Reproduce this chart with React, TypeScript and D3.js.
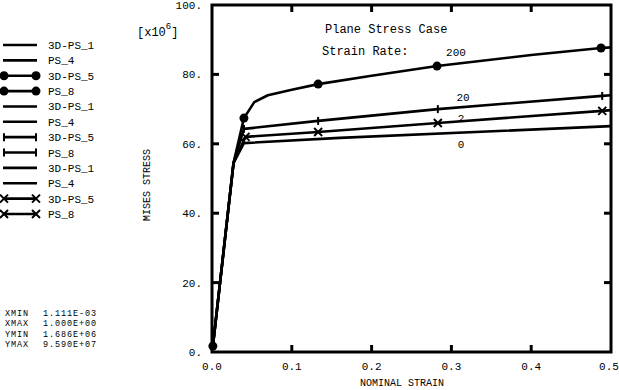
import * as d3 from 'd3'

// strain [-] and Mises stress [x10^6]
const rate200X = [0.0011, 0.027, 0.04, 0.053, 0.07, 0.1, 0.133, 0.2, 0.282, 0.4, 0.4875, 0.5]
const rate200Y = [1.7, 54.5, 67.4, 72, 74, 75.6, 77.2, 79.6, 82.4, 85.6, 87.6, 87.8]
const rate200Marks = [0.0011, 0.04, 0.133, 0.282, 0.4875]

const rate20X = [0.0011, 0.027, 0.04, 0.133, 0.283, 0.489, 0.5]
const rate20Y = [1.7, 54.5, 64.3, 66.6, 70.0, 73.8, 74.0]
const rate20Marks = [0.04, 0.133, 0.283, 0.489]

const rate2X = [0.0011, 0.027, 0.042, 0.133, 0.283, 0.489, 0.5]
const rate2Y = [1.7, 54.5, 62.0, 63.4, 66.0, 69.5, 69.7]
const rate2Marks = [0.042, 0.133, 0.283, 0.489]

const rate0X = [0.0011, 0.027, 0.04, 0.16, 0.5]
const rate0Y = [1.7, 54.5, 60.2, 61.7, 65.1]

const xTicks = [0, 0.1, 0.2, 0.3, 0.4, 0.5]
const xTickLabels = ['0.0', '0.1', '0.2', '0.3', '0.4', '0.5']
const yTicks = [0, 20, 40, 60, 80, 100]
const yTickLabels = ['0.', '20.', '40.', '60.', '80.', '100.']

const legendNames = ['3D-PS_1', 'PS_4', '3D-PS_5', 'PS_8', '3D-PS_1', 'PS_4', '3D-PS_5', 'PS_8', '3D-PS_1', 'PS_4', '3D-PS_5', 'PS_8']
const legendMarks = ['', '', 'circle', 'circle', '', '', 'plus', 'plus', '', '', 'cross', 'cross']

const statNames = ['XMIN', 'XMAX', 'YMIN', 'YMAX']
const statValues = ['1.111E-03', '1.000E+00', '1.686E+06', '9.590E+07']

const rateLabels = ['200', '20', '2', '0']

const width = 619
const height = 390
const left = 212
const right = 611
const top = 5
const bottom = 352
const font = '"Liberation Mono", "DejaVu Sans Mono", monospace'

const interp = (xs: number[], ys: number[], v: number) => {
	const i = Math.max(1, d3.bisectLeft(xs, v))
	const t = (v - xs[i - 1]) / (xs[i] - xs[i - 1])
	return ys[i - 1] + t * (ys[i] - ys[i - 1])
}

const Marker = ({ kind, cx, cy }: { kind: string; cx: number; cy: number }) => {
	if (kind === 'circle') return <circle cx={cx} cy={cy} r={4.5} fill='#000' />
	if (kind === 'plus') return <line x1={cx} x2={cx} y1={cy - 4} y2={cy + 4} stroke='#000' strokeWidth={2} />
	if (kind === 'cross')
		return (
			<g stroke='#000' strokeWidth={2}>
				<line x1={cx - 4} x2={cx + 4} y1={cy - 4} y2={cy + 4} />
				<line x1={cx - 4} x2={cx + 4} y1={cy + 4} y2={cy - 4} />
			</g>
		)
	return null
}

export default function App() {
	const x = d3.scaleLinear().domain([0, 0.5]).range([left, right])
	const y = d3.scaleLinear().domain([0, 100]).range([bottom, top])

	const path = (xs: number[], ys: number[]) =>
		d3
			.line<number>()
			.x((d) => x(d))
			.y((_, i) => y(ys[i]))(xs) as string

	const series = [
		{ xs: rate200X, ys: rate200Y, marks: rate200Marks, kind: 'circle' },
		{ xs: rate20X, ys: rate20Y, marks: rate20Marks, kind: 'plus' },
		{ xs: rate2X, ys: rate2Y, marks: rate2Marks, kind: 'cross' },
		{ xs: rate0X, ys: rate0Y, marks: [] as number[], kind: '' },
	]

	const rateLabelPos = [
		[456, 56],
		[463, 101],
		[461, 122],
		[461, 148],
	]

	return (
		<svg
			width={width}
			height={height}
			viewBox={`0 0 ${width} ${height}`}
			style={{ position: 'absolute', left: 0, top: 0, background: '#fff' }}
			fontFamily={font}
		>
			<defs>
				<clipPath id='plotClip'>
					<rect x={left} y={top} width={right - left} height={bottom - top} />
				</clipPath>
			</defs>
			<rect width={width} height={height} fill='#fff' />

			{/* curves */}
			<g clipPath='url(#plotClip)'>
				{series.map((s, i) => (
					<path key={i} d={path(s.xs, s.ys)} fill='none' stroke='#000' strokeWidth={2.6} strokeLinejoin='round' />
				))}
			</g>
			{series.map((s, i) =>
				s.marks.map((m, j) => <Marker key={`${i}-${j}`} kind={s.kind} cx={x(m)} cy={y(interp(s.xs, s.ys, m))} />)
			)}

			{/* frame */}
			<rect x={left} y={top} width={right - left} height={bottom - top} fill='none' stroke='#000' strokeWidth={3} />
			{xTicks.slice(1, -1).map((t) => (
				<g key={t} stroke='#000' strokeWidth={3}>
					<line x1={x(t)} x2={x(t)} y1={bottom} y2={bottom - 7} />
					<line x1={x(t)} x2={x(t)} y1={top} y2={top + 7} />
				</g>
			))}
			{yTicks.slice(1, -1).map((t) => (
				<g key={t} stroke='#000' strokeWidth={3}>
					<line x1={left} x2={left + 7} y1={y(t)} y2={y(t)} />
					<line x1={right} x2={right - 7} y1={y(t)} y2={y(t)} />
				</g>
			))}

			{/* tick labels */}
			{xTicks.map((t, i) => (
				<text key={t} x={i === xTicks.length - 1 ? x(t) - 2 : x(t)} y={370} fontSize={11} textAnchor='middle'>
					{xTickLabels[i]}
				</text>
			))}
			{yTicks.map((t, i) => (
				<text key={t} x={202} y={y(t) + 4} fontSize={11} textAnchor='end'>
					{yTickLabels[i]}
				</text>
			))}

			<text x={402} y={386} fontSize={10} textAnchor='middle'>
				NOMINAL STRAIN
			</text>
			<text transform='translate(150,185) rotate(-90)' fontSize={10} textAnchor='middle'>
				MISES STRESS
			</text>
			<text x={137} y={36} fontSize={12}>
				[x10
				<tspan dy={-7} fontSize={9}>
					6
				</tspan>
				<tspan dy={7}>]</tspan>
			</text>

			<text x={325} y={33} fontSize={12}>
				Plane Stress Case
			</text>
			<text x={322} y={55} fontSize={12}>
				Strain Rate:
			</text>
			{rateLabels.map((r, i) => (
				<text key={r} x={rateLabelPos[i][0]} y={rateLabelPos[i][1]} fontSize={11} textAnchor='middle'>
					{r}
				</text>
			))}

			{/* legend */}
			{legendNames.map((n, i) => {
				const ly = 45 + i * 15.36
				return (
					<g key={i}>
						<line x1={3} x2={37} y1={ly} y2={ly} stroke='#000' strokeWidth={2.6} />
						{legendMarks[i] && (
							<>
								<Marker kind={legendMarks[i]} cx={4} cy={ly} />
								<Marker kind={legendMarks[i]} cx={36} cy={ly} />
							</>
						)}
						<text x={48} y={ly + 4} fontSize={11}>
							{n}
						</text>
					</g>
				)
			})}

			{/* range stats */}
			{statNames.map((n, i) => (
				<text key={n} x={5} y={[316, 326, 337, 347][i]} fontSize={8.5} letterSpacing={0.9}>
					{n}
					<tspan x={43}>{statValues[i]}</tspan>
				</text>
			))}
		</svg>
	)
}
